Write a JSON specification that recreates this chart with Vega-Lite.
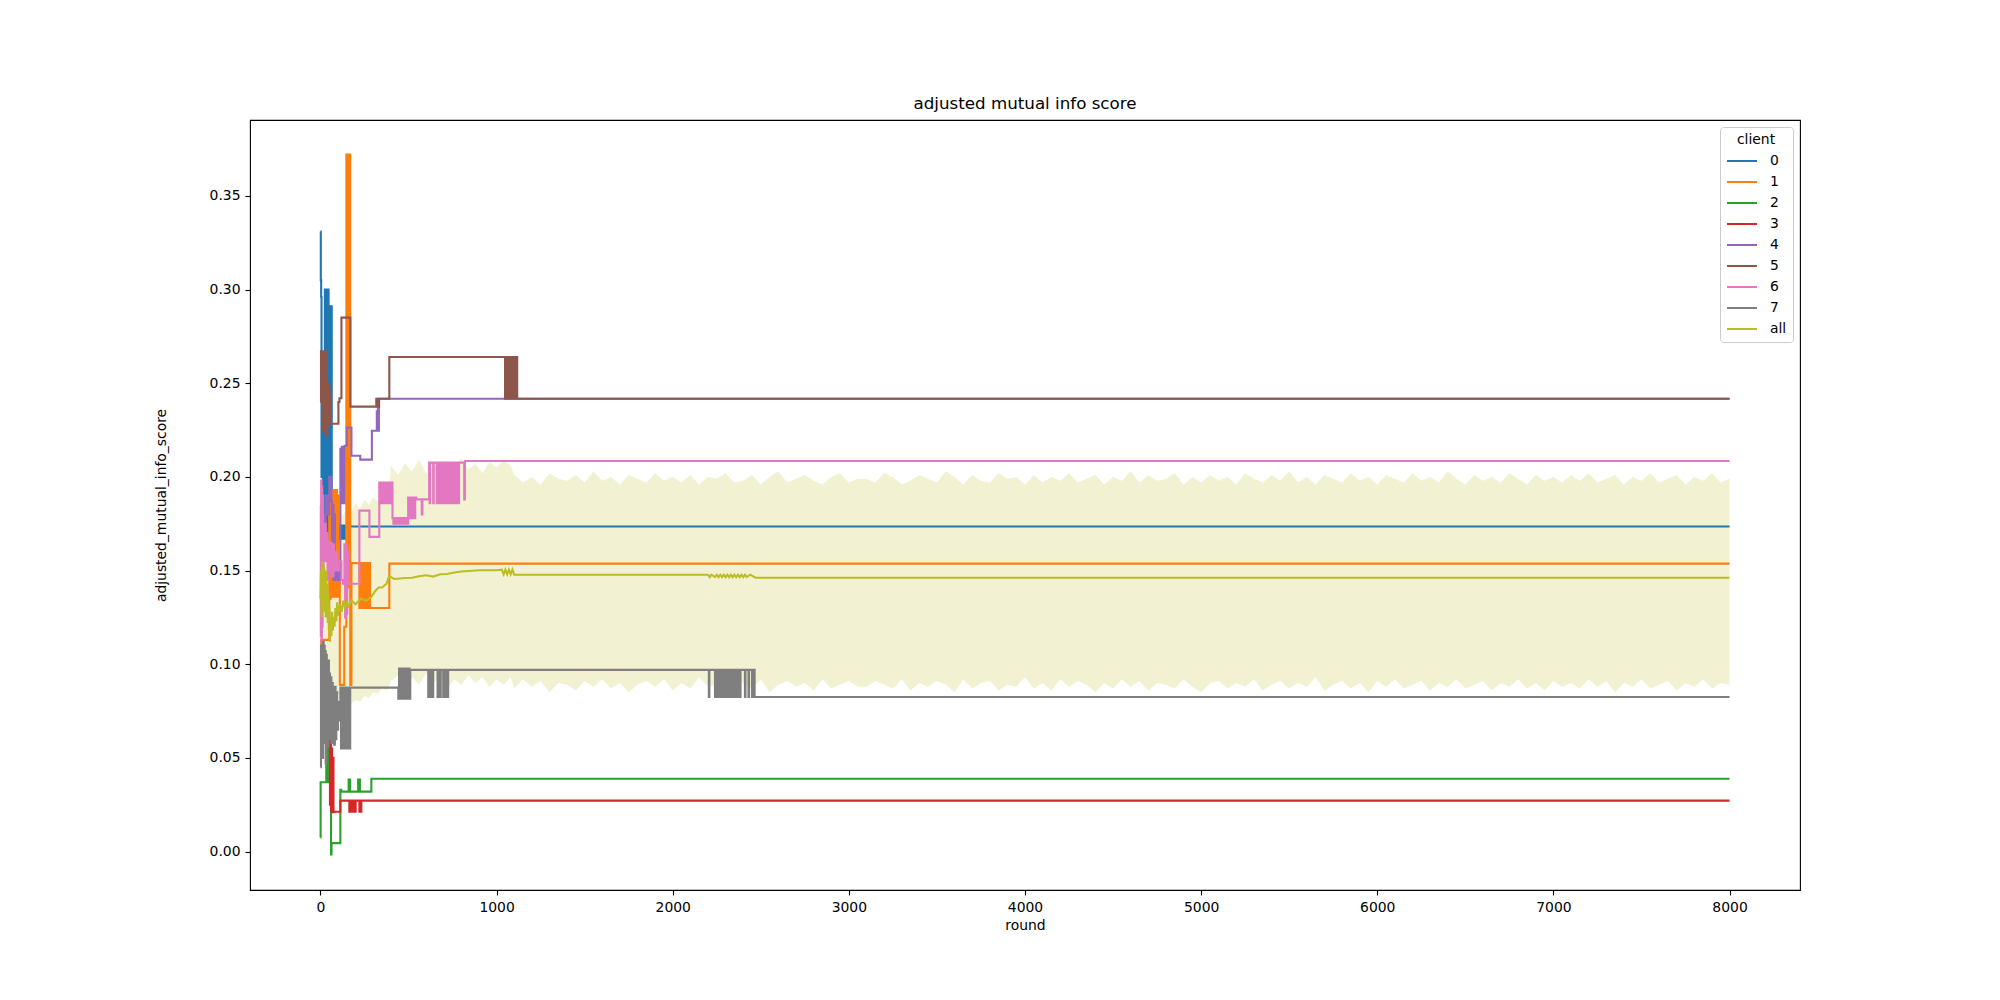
{
  "$schema": "https://vega.github.io/schema/vega-lite/v6.json",
  "width": 1550,
  "height": 770,
  "autosize": "none",
  "padding": {"left": 250, "top": 120, "right": 200, "bottom": 110},
  "background": "white",
  "title": {"text": "adjusted mutual info score", "font": "DejaVu Sans", "fontSize": 16.7, "fontWeight": "normal", "color": "black", "offset": 7},
  "config": {
    "view": {"stroke": "black", "strokeWidth": 1.1},
    "axis": {"grid": false, "domain": false, "tickColor": "black", "tickWidth": 1.1, "tickSize": 5, "labelPadding": 5, "labelFont": "DejaVu Sans", "labelFontSize": 13.9, "labelColor": "black", "titleFont": "DejaVu Sans", "titleFontSize": 13.9, "titleFontWeight": "normal", "titleColor": "black"},
    "legend": {"orient": "top-right", "offset": 7, "padding": 6, "strokeColor": "#cccccc", "fillColor": "rgba(255,255,255,0.8)", "cornerRadius": 3, "symbolType": "stroke", "symbolSize": 900, "symbolStrokeWidth": 2, "clipHeight": 14, "rowPadding": 7, "labelOffset": 12, "labelFont": "DejaVu Sans", "labelFontSize": 13.9, "labelColor": "black", "titleFont": "DejaVu Sans", "titleFontSize": 13.9, "titleFontWeight": "normal", "titleColor": "black", "titleAnchor": "middle", "titlePadding": 7}
  },
  "datasets": {
    "clients": [
      {"c":"0","r":0,"v":0.331},{"c":"0","r":2,"v":0.305},{"c":"0","r":4,"v":0.296},{"c":"0","r":6,"v":0.2},{"c":"0","r":10,"v":0.24},{"c":"0","r":14,"v":0.19},{"c":"0","r":18,"v":0.22},{"c":"0","r":22,"v":0.18},{"c":"0","r":25,"v":0.3},{"c":"0","r":28,"v":0.167},{"c":"0","r":31,"v":0.3},{"c":"0","r":34,"v":0.17},{"c":"0","r":37,"v":0.3},{"c":"0","r":40,"v":0.167},{"c":"0","r":43,"v":0.3},{"c":"0","r":46,"v":0.17},{"c":"0","r":49,"v":0.291},{"c":"0","r":52,"v":0.167},{"c":"0","r":55,"v":0.291},{"c":"0","r":58,"v":0.17},{"c":"0","r":61,"v":0.291},{"c":"0","r":64,"v":0.167},{"c":"0","r":70,"v":0.17},{"c":"0","r":80,"v":0.175},{"c":"0","r":95,"v":0.168},{"c":"0","r":105,"v":0.174},{"c":"0","r":110,"v":0.167},{"c":"0","r":118,"v":0.174},{"c":"0","r":122,"v":0.167},{"c":"0","r":126,"v":0.174},{"c":"0","r":130,"v":0.167},{"c":"0","r":134,"v":0.174},{"c":"0","r":138,"v":0.167},{"c":"0","r":142,"v":0.174},{"c":"0","r":147,"v":0.1735},{"c":"0","r":8000,"v":0.1735},
      {"c":"1","r":0,"v":0.05},{"c":"1","r":4,"v":0.113},{"c":"1","r":50,"v":0.19},{"c":"1","r":54,"v":0.135},{"c":"1","r":58,"v":0.19},{"c":"1","r":62,"v":0.14},{"c":"1","r":66,"v":0.193},{"c":"1","r":70,"v":0.136},{"c":"1","r":74,"v":0.193},{"c":"1","r":78,"v":0.136},{"c":"1","r":82,"v":0.193},{"c":"1","r":86,"v":0.136},{"c":"1","r":90,"v":0.193},{"c":"1","r":94,"v":0.136},{"c":"1","r":98,"v":0.19},{"c":"1","r":102,"v":0.15},{"c":"1","r":110,"v":0.089},{"c":"1","r":135,"v":0.12},{"c":"1","r":147,"v":0.372},{"c":"1","r":150,"v":0.141},{"c":"1","r":153,"v":0.372},{"c":"1","r":156,"v":0.141},{"c":"1","r":159,"v":0.372},{"c":"1","r":162,"v":0.141},{"c":"1","r":165,"v":0.372},{"c":"1","r":169,"v":0.089},{"c":"1","r":176,"v":0.154},{"c":"1","r":221,"v":0.13},{"c":"1","r":226,"v":0.154},{"c":"1","r":231,"v":0.13},{"c":"1","r":236,"v":0.154},{"c":"1","r":241,"v":0.13},{"c":"1","r":246,"v":0.154},{"c":"1","r":251,"v":0.13},{"c":"1","r":256,"v":0.154},{"c":"1","r":261,"v":0.13},{"c":"1","r":266,"v":0.154},{"c":"1","r":271,"v":0.13},{"c":"1","r":276,"v":0.154},{"c":"1","r":281,"v":0.13},{"c":"1","r":391,"v":0.1537},{"c":"1","r":8000,"v":0.1537},
      {"c":"2","r":0,"v":0.0075},{"c":"2","r":1,"v":0.037},{"c":"2","r":33,"v":0.062},{"c":"2","r":36,"v":0.037},{"c":"2","r":39,"v":0.062},{"c":"2","r":42,"v":0.037},{"c":"2","r":45,"v":0.062},{"c":"2","r":48,"v":0.037},{"c":"2","r":51,"v":0.062},{"c":"2","r":55,"v":0.045},{"c":"2","r":60,"v":-0.0015},{"c":"2","r":63,"v":0.0045},{"c":"2","r":113,"v":0.033},{"c":"2","r":118,"v":0.032},{"c":"2","r":160,"v":0.0385},{"c":"2","r":168,"v":0.032},{"c":"2","r":214,"v":0.0385},{"c":"2","r":224,"v":0.032},{"c":"2","r":289,"v":0.0389},{"c":"2","r":8000,"v":0.0389},
      {"c":"3","r":0,"v":0.065},{"c":"3","r":20,"v":0.077},{"c":"3","r":24,"v":0.065},{"c":"3","r":28,"v":0.077},{"c":"3","r":32,"v":0.065},{"c":"3","r":36,"v":0.075},{"c":"3","r":40,"v":0.065},{"c":"3","r":45,"v":0.06},{"c":"3","r":51,"v":0.062},{"c":"3","r":54,"v":0.025},{"c":"3","r":57,"v":0.058},{"c":"3","r":60,"v":0.022},{"c":"3","r":63,"v":0.055},{"c":"3","r":66,"v":0.021},{"c":"3","r":70,"v":0.05},{"c":"3","r":74,"v":0.021},{"c":"3","r":79,"v":0.0213},{"c":"3","r":113,"v":0.0272},{"c":"3","r":164,"v":0.0213},{"c":"3","r":168,"v":0.0272},{"c":"3","r":172,"v":0.0213},{"c":"3","r":176,"v":0.0272},{"c":"3","r":180,"v":0.0213},{"c":"3","r":184,"v":0.0272},{"c":"3","r":188,"v":0.0213},{"c":"3","r":192,"v":0.0272},{"c":"3","r":196,"v":0.0213},{"c":"3","r":200,"v":0.0272},{"c":"3","r":221,"v":0.0213},{"c":"3","r":232,"v":0.0272},{"c":"3","r":8000,"v":0.0272},
      {"c":"4","r":0,"v":0.185},{"c":"4","r":4,"v":0.165},{"c":"4","r":8,"v":0.19},{"c":"4","r":12,"v":0.16},{"c":"4","r":16,"v":0.18},{"c":"4","r":20,"v":0.17},{"c":"4","r":30,"v":0.19},{"c":"4","r":40,"v":0.18},{"c":"4","r":50,"v":0.2},{"c":"4","r":62,"v":0.187},{"c":"4","r":66,"v":0.148},{"c":"4","r":70,"v":0.185},{"c":"4","r":74,"v":0.145},{"c":"4","r":78,"v":0.18},{"c":"4","r":82,"v":0.145},{"c":"4","r":90,"v":0.15},{"c":"4","r":102,"v":0.145},{"c":"4","r":113,"v":0.215},{"c":"4","r":117,"v":0.186},{"c":"4","r":121,"v":0.216},{"c":"4","r":125,"v":0.186},{"c":"4","r":129,"v":0.216},{"c":"4","r":133,"v":0.186},{"c":"4","r":137,"v":0.2166},{"c":"4","r":150,"v":0.2263},{"c":"4","r":176,"v":0.2113},{"c":"4","r":226,"v":0.2092},{"c":"4","r":292,"v":0.2246},{"c":"4","r":320,"v":0.235},{"c":"4","r":323,"v":0.2246},{"c":"4","r":326,"v":0.2417},{"c":"4","r":329,"v":0.2246},{"c":"4","r":332,"v":0.2417},{"c":"4","r":8000,"v":0.2417},
      {"c":"5","r":0,"v":0.24},{"c":"5","r":3,"v":0.267},{"c":"5","r":6,"v":0.24},{"c":"5","r":9,"v":0.267},{"c":"5","r":12,"v":0.225},{"c":"5","r":15,"v":0.267},{"c":"5","r":18,"v":0.23},{"c":"5","r":21,"v":0.267},{"c":"5","r":24,"v":0.223},{"c":"5","r":27,"v":0.267},{"c":"5","r":30,"v":0.24},{"c":"5","r":33,"v":0.267},{"c":"5","r":36,"v":0.222},{"c":"5","r":39,"v":0.25},{"c":"5","r":43,"v":0.228},{"c":"5","r":47,"v":0.25},{"c":"5","r":51,"v":0.228},{"c":"5","r":55,"v":0.245},{"c":"5","r":60,"v":0.2284},{"c":"5","r":102,"v":0.24},{"c":"5","r":108,"v":0.242},{"c":"5","r":119,"v":0.285},{"c":"5","r":170,"v":0.2375},{"c":"5","r":317,"v":0.2417},{"c":"5","r":321,"v":0.2375},{"c":"5","r":325,"v":0.2417},{"c":"5","r":329,"v":0.2375},{"c":"5","r":333,"v":0.2417},{"c":"5","r":391,"v":0.264},{"c":"5","r":1048,"v":0.2417},{"c":"5","r":1051,"v":0.264},{"c":"5","r":1062,"v":0.2417},{"c":"5","r":1066,"v":0.264},{"c":"5","r":1070,"v":0.2417},{"c":"5","r":1074,"v":0.264},{"c":"5","r":1078,"v":0.2417},{"c":"5","r":1082,"v":0.264},{"c":"5","r":1086,"v":0.2417},{"c":"5","r":1090,"v":0.264},{"c":"5","r":1094,"v":0.2417},{"c":"5","r":1098,"v":0.264},{"c":"5","r":1102,"v":0.2417},{"c":"5","r":1106,"v":0.264},{"c":"5","r":1110,"v":0.2417},{"c":"5","r":1114,"v":0.264},{"c":"5","r":1117,"v":0.2417},{"c":"5","r":8000,"v":0.2417},
      {"c":"6","r":0,"v":0.185},{"c":"6","r":2,"v":0.115},{"c":"6","r":4,"v":0.198},{"c":"6","r":6,"v":0.112},{"c":"6","r":8,"v":0.195},{"c":"6","r":10,"v":0.12},{"c":"6","r":12,"v":0.19},{"c":"6","r":15,"v":0.13},{"c":"6","r":18,"v":0.175},{"c":"6","r":22,"v":0.16},{"c":"6","r":26,"v":0.175},{"c":"6","r":30,"v":0.155},{"c":"6","r":35,"v":0.17},{"c":"6","r":40,"v":0.145},{"c":"6","r":45,"v":0.165},{"c":"6","r":50,"v":0.15},{"c":"6","r":55,"v":0.165},{"c":"6","r":62,"v":0.147},{"c":"6","r":66,"v":0.164},{"c":"6","r":70,"v":0.147},{"c":"6","r":74,"v":0.164},{"c":"6","r":78,"v":0.15},{"c":"6","r":85,"v":0.16},{"c":"6","r":95,"v":0.15},{"c":"6","r":105,"v":0.155},{"c":"6","r":119,"v":0.145},{"c":"6","r":128,"v":0.143},{"c":"6","r":136,"v":0.164},{"c":"6","r":140,"v":0.125},{"c":"6","r":144,"v":0.164},{"c":"6","r":148,"v":0.127},{"c":"6","r":152,"v":0.16},{"c":"6","r":158,"v":0.143},{"c":"6","r":221,"v":0.182},{"c":"6","r":278,"v":0.168},{"c":"6","r":334,"v":0.197},{"c":"6","r":339,"v":0.186},{"c":"6","r":344,"v":0.197},{"c":"6","r":349,"v":0.186},{"c":"6","r":354,"v":0.197},{"c":"6","r":359,"v":0.186},{"c":"6","r":364,"v":0.197},{"c":"6","r":369,"v":0.186},{"c":"6","r":374,"v":0.197},{"c":"6","r":379,"v":0.186},{"c":"6","r":384,"v":0.197},{"c":"6","r":389,"v":0.186},{"c":"6","r":394,"v":0.197},{"c":"6","r":399,"v":0.186},{"c":"6","r":404,"v":0.197},{"c":"6","r":409,"v":0.178},{"c":"6","r":414,"v":0.175},{"c":"6","r":419,"v":0.178},{"c":"6","r":424,"v":0.175},{"c":"6","r":429,"v":0.178},{"c":"6","r":434,"v":0.175},{"c":"6","r":439,"v":0.178},{"c":"6","r":444,"v":0.175},{"c":"6","r":449,"v":0.178},{"c":"6","r":454,"v":0.175},{"c":"6","r":459,"v":0.178},{"c":"6","r":464,"v":0.175},{"c":"6","r":469,"v":0.178},{"c":"6","r":474,"v":0.175},{"c":"6","r":479,"v":0.178},{"c":"6","r":484,"v":0.175},{"c":"6","r":489,"v":0.178},{"c":"6","r":494,"v":0.175},{"c":"6","r":498,"v":0.189},{"c":"6","r":503,"v":0.178},{"c":"6","r":508,"v":0.189},{"c":"6","r":513,"v":0.178},{"c":"6","r":518,"v":0.189},{"c":"6","r":523,"v":0.178},{"c":"6","r":528,"v":0.189},{"c":"6","r":533,"v":0.178},{"c":"6","r":538,"v":0.189},{"c":"6","r":544,"v":0.188},{"c":"6","r":575,"v":0.18},{"c":"6","r":579,"v":0.188},{"c":"6","r":617,"v":0.2076},{"c":"6","r":620,"v":0.186},{"c":"6","r":623,"v":0.2076},{"c":"6","r":640,"v":0.186},{"c":"6","r":643,"v":0.2076},{"c":"6","r":660,"v":0.186},{"c":"6","r":665,"v":0.2076},{"c":"6","r":670,"v":0.186},{"c":"6","r":675,"v":0.2076},{"c":"6","r":680,"v":0.186},{"c":"6","r":685,"v":0.2076},{"c":"6","r":690,"v":0.186},{"c":"6","r":695,"v":0.2076},{"c":"6","r":700,"v":0.186},{"c":"6","r":705,"v":0.2076},{"c":"6","r":710,"v":0.186},{"c":"6","r":715,"v":0.2076},{"c":"6","r":720,"v":0.186},{"c":"6","r":725,"v":0.2076},{"c":"6","r":730,"v":0.186},{"c":"6","r":735,"v":0.2076},{"c":"6","r":740,"v":0.186},{"c":"6","r":745,"v":0.2076},{"c":"6","r":750,"v":0.186},{"c":"6","r":755,"v":0.2076},{"c":"6","r":760,"v":0.186},{"c":"6","r":765,"v":0.2076},{"c":"6","r":770,"v":0.186},{"c":"6","r":775,"v":0.2076},{"c":"6","r":780,"v":0.186},{"c":"6","r":787,"v":0.2076},{"c":"6","r":816,"v":0.188},{"c":"6","r":820,"v":0.2085},{"c":"6","r":8000,"v":0.2085},
      {"c":"7","r":0,"v":0.045},{"c":"7","r":3,"v":0.11},{"c":"7","r":6,"v":0.06},{"c":"7","r":9,"v":0.108},{"c":"7","r":12,"v":0.05},{"c":"7","r":15,"v":0.112},{"c":"7","r":18,"v":0.065},{"c":"7","r":21,"v":0.11},{"c":"7","r":24,"v":0.058},{"c":"7","r":27,"v":0.107},{"c":"7","r":30,"v":0.047},{"c":"7","r":33,"v":0.105},{"c":"7","r":36,"v":0.068},{"c":"7","r":39,"v":0.1},{"c":"7","r":42,"v":0.056},{"c":"7","r":45,"v":0.102},{"c":"7","r":48,"v":0.07},{"c":"7","r":51,"v":0.095},{"c":"7","r":54,"v":0.06},{"c":"7","r":58,"v":0.093},{"c":"7","r":62,"v":0.058},{"c":"7","r":66,"v":0.09},{"c":"7","r":70,"v":0.062},{"c":"7","r":74,"v":0.085},{"c":"7","r":78,"v":0.057},{"c":"7","r":82,"v":0.088},{"c":"7","r":86,"v":0.06},{"c":"7","r":90,"v":0.085},{"c":"7","r":95,"v":0.065},{"c":"7","r":100,"v":0.08},{"c":"7","r":105,"v":0.07},{"c":"7","r":113,"v":0.0875},{"c":"7","r":117,"v":0.055},{"c":"7","r":121,"v":0.0875},{"c":"7","r":125,"v":0.055},{"c":"7","r":129,"v":0.0875},{"c":"7","r":133,"v":0.055},{"c":"7","r":137,"v":0.0875},{"c":"7","r":141,"v":0.055},{"c":"7","r":145,"v":0.0875},{"c":"7","r":149,"v":0.055},{"c":"7","r":153,"v":0.0875},{"c":"7","r":157,"v":0.055},{"c":"7","r":161,"v":0.0875},{"c":"7","r":165,"v":0.055},{"c":"7","r":169,"v":0.0875},{"c":"7","r":442,"v":0.0816},{"c":"7","r":446,"v":0.0977},{"c":"7","r":450,"v":0.0816},{"c":"7","r":454,"v":0.0977},{"c":"7","r":458,"v":0.0816},{"c":"7","r":462,"v":0.0977},{"c":"7","r":466,"v":0.0816},{"c":"7","r":470,"v":0.0977},{"c":"7","r":474,"v":0.0816},{"c":"7","r":478,"v":0.0977},{"c":"7","r":482,"v":0.0816},{"c":"7","r":486,"v":0.0977},{"c":"7","r":490,"v":0.0816},{"c":"7","r":494,"v":0.0977},{"c":"7","r":498,"v":0.0816},{"c":"7","r":502,"v":0.0977},{"c":"7","r":506,"v":0.0816},{"c":"7","r":510,"v":0.097},{"c":"7","r":612,"v":0.0825},{"c":"7","r":616,"v":0.097},{"c":"7","r":620,"v":0.0825},{"c":"7","r":624,"v":0.097},{"c":"7","r":628,"v":0.0825},{"c":"7","r":632,"v":0.097},{"c":"7","r":636,"v":0.0825},{"c":"7","r":640,"v":0.097},{"c":"7","r":665,"v":0.0825},{"c":"7","r":668,"v":0.097},{"c":"7","r":680,"v":0.0825},{"c":"7","r":683,"v":0.097},{"c":"7","r":697,"v":0.0825},{"c":"7","r":701,"v":0.097},{"c":"7","r":705,"v":0.0825},{"c":"7","r":709,"v":0.097},{"c":"7","r":713,"v":0.0825},{"c":"7","r":717,"v":0.097},{"c":"7","r":721,"v":0.0825},{"c":"7","r":725,"v":0.097},{"c":"7","r":2205,"v":0.0825},{"c":"7","r":2208,"v":0.097},{"c":"7","r":2240,"v":0.0825},{"c":"7","r":2245,"v":0.097},{"c":"7","r":2250,"v":0.0825},{"c":"7","r":2255,"v":0.097},{"c":"7","r":2260,"v":0.0825},{"c":"7","r":2265,"v":0.097},{"c":"7","r":2270,"v":0.0825},{"c":"7","r":2275,"v":0.097},{"c":"7","r":2280,"v":0.0825},{"c":"7","r":2285,"v":0.097},{"c":"7","r":2290,"v":0.0825},{"c":"7","r":2295,"v":0.097},{"c":"7","r":2300,"v":0.0825},{"c":"7","r":2305,"v":0.097},{"c":"7","r":2310,"v":0.0825},{"c":"7","r":2315,"v":0.097},{"c":"7","r":2320,"v":0.0825},{"c":"7","r":2325,"v":0.097},{"c":"7","r":2330,"v":0.0825},{"c":"7","r":2335,"v":0.097},{"c":"7","r":2340,"v":0.0825},{"c":"7","r":2345,"v":0.097},{"c":"7","r":2350,"v":0.0825},{"c":"7","r":2355,"v":0.097},{"c":"7","r":2360,"v":0.0825},{"c":"7","r":2365,"v":0.097},{"c":"7","r":2370,"v":0.0825},{"c":"7","r":2375,"v":0.097},{"c":"7","r":2380,"v":0.0825},{"c":"7","r":2385,"v":0.097},{"c":"7","r":2410,"v":0.0825},{"c":"7","r":2413,"v":0.097},{"c":"7","r":2430,"v":0.0825},{"c":"7","r":2433,"v":0.097},{"c":"7","r":2450,"v":0.0825},{"c":"7","r":2455,"v":0.097},{"c":"7","r":2465,"v":0.0825},{"c":"7","r":8000,"v":0.0825}
    ],
    "overall": [
      {"c":"all","r":0,"v":0.135},{"c":"all","r":3,"v":0.15},{"c":"all","r":6,"v":0.125},{"c":"all","r":9,"v":0.155},{"c":"all","r":12,"v":0.13},{"c":"all","r":15,"v":0.148},{"c":"all","r":18,"v":0.128},{"c":"all","r":21,"v":0.152},{"c":"all","r":24,"v":0.135},{"c":"all","r":27,"v":0.145},{"c":"all","r":30,"v":0.125},{"c":"all","r":33,"v":0.15},{"c":"all","r":36,"v":0.132},{"c":"all","r":39,"v":0.143},{"c":"all","r":42,"v":0.122},{"c":"all","r":45,"v":0.138},{"c":"all","r":48,"v":0.118},{"c":"all","r":51,"v":0.13},{"c":"all","r":54,"v":0.112},{"c":"all","r":58,"v":0.125},{"c":"all","r":62,"v":0.115},{"c":"all","r":66,"v":0.128},{"c":"all","r":70,"v":0.118},{"c":"all","r":75,"v":0.125},{"c":"all","r":80,"v":0.12},{"c":"all","r":85,"v":0.13},{"c":"all","r":90,"v":0.123},{"c":"all","r":95,"v":0.133},{"c":"all","r":100,"v":0.126},{"c":"all","r":110,"v":0.132},{"c":"all","r":120,"v":0.128},{"c":"all","r":130,"v":0.134},{"c":"all","r":140,"v":0.13},{"c":"all","r":150,"v":0.133},{"c":"all","r":160,"v":0.131},{"c":"all","r":176,"v":0.134},{"c":"all","r":200,"v":0.132},{"c":"all","r":230,"v":0.135},{"c":"all","r":260,"v":0.134},{"c":"all","r":290,"v":0.136},{"c":"all","r":310,"v":0.139},{"c":"all","r":330,"v":0.141},{"c":"all","r":350,"v":0.141},{"c":"all","r":375,"v":0.143},{"c":"all","r":390,"v":0.147},{"c":"all","r":420,"v":0.1455},{"c":"all","r":450,"v":0.1458},{"c":"all","r":480,"v":0.146},{"c":"all","r":520,"v":0.1462},{"c":"all","r":560,"v":0.147},{"c":"all","r":600,"v":0.1475},{"c":"all","r":640,"v":0.1468},{"c":"all","r":680,"v":0.148},{"c":"all","r":720,"v":0.1482},{"c":"all","r":760,"v":0.149},{"c":"all","r":800,"v":0.1495},{"c":"all","r":900,"v":0.1502},{"c":"all","r":1000,"v":0.1502},{"c":"all","r":1030,"v":0.1505},{"c":"all","r":1040,"v":0.148},{"c":"all","r":1050,"v":0.1505},{"c":"all","r":1060,"v":0.148},{"c":"all","r":1070,"v":0.1505},{"c":"all","r":1080,"v":0.148},{"c":"all","r":1090,"v":0.1505},{"c":"all","r":1100,"v":0.1478},{"c":"all","r":2200,"v":0.1478},{"c":"all","r":2210,"v":0.1465},{"c":"all","r":2220,"v":0.1478},{"c":"all","r":2240,"v":0.1465},{"c":"all","r":2250,"v":0.1478},{"c":"all","r":2260,"v":0.1465},{"c":"all","r":2270,"v":0.1478},{"c":"all","r":2280,"v":0.1465},{"c":"all","r":2290,"v":0.1478},{"c":"all","r":2300,"v":0.1465},{"c":"all","r":2310,"v":0.1478},{"c":"all","r":2320,"v":0.1465},{"c":"all","r":2330,"v":0.1478},{"c":"all","r":2340,"v":0.1465},{"c":"all","r":2350,"v":0.1478},{"c":"all","r":2360,"v":0.1465},{"c":"all","r":2370,"v":0.1478},{"c":"all","r":2380,"v":0.1465},{"c":"all","r":2390,"v":0.1478},{"c":"all","r":2400,"v":0.1465},{"c":"all","r":2410,"v":0.1478},{"c":"all","r":2420,"v":0.1465},{"c":"all","r":2440,"v":0.1478},{"c":"all","r":2470,"v":0.1462},{"c":"all","r":8000,"v":0.1462}
    ],
    "band": [
      {"r":0,"lo":0.105,"hi":0.175},{"r":25,"lo":0.095,"hi":0.178},{"r":50,"lo":0.09,"hi":0.18},{"r":75,"lo":0.086,"hi":0.176},{"r":100,"lo":0.084,"hi":0.182},{"r":125,"lo":0.082,"hi":0.179},{"r":150,"lo":0.08,"hi":0.183},{"r":175,"lo":0.079,"hi":0.181},{"r":200,"lo":0.081,"hi":0.186},{"r":225,"lo":0.08,"hi":0.183},{"r":250,"lo":0.083,"hi":0.188},{"r":275,"lo":0.082,"hi":0.185},{"r":300,"lo":0.085,"hi":0.189},{"r":325,"lo":0.084,"hi":0.187},{"r":350,"lo":0.087,"hi":0.192},{"r":375,"lo":0.086,"hi":0.189},{"r":390,"lo":0.088,"hi":0.194},
      {"r":400,"lo":0.091,"hi":0.206},{"r":440,"lo":0.094,"hi":0.201},{"r":480,"lo":0.088,"hi":0.207},{"r":520,"lo":0.093,"hi":0.203},{"r":560,"lo":0.089,"hi":0.209},{"r":600,"lo":0.095,"hi":0.202},{"r":640,"lo":0.09,"hi":0.205},{"r":680,"lo":0.093,"hi":0.208},{"r":720,"lo":0.087,"hi":0.203},{"r":760,"lo":0.092,"hi":0.206},{"r":800,"lo":0.089,"hi":0.21},{"r":840,"lo":0.094,"hi":0.204},{"r":880,"lo":0.09,"hi":0.207},{"r":920,"lo":0.093,"hi":0.202},{"r":960,"lo":0.088,"hi":0.208},{"r":1000,"lo":0.092,"hi":0.205},{"r":1040,"lo":0.089,"hi":0.209},{"r":1080,"lo":0.093,"hi":0.206},
      {"r":1100,"lo":0.087,"hi":0.201},{"r":1150,"lo":0.092,"hi":0.197},{"r":1200,"lo":0.088,"hi":0.2},{"r":1250,"lo":0.091,"hi":0.196},{"r":1300,"lo":0.085,"hi":0.202},{"r":1350,"lo":0.09,"hi":0.199},{"r":1400,"lo":0.089,"hi":0.198},{"r":1450,"lo":0.086,"hi":0.201},{"r":1500,"lo":0.091,"hi":0.197},{"r":1550,"lo":0.088,"hi":0.203},{"r":1600,"lo":0.092,"hi":0.198},{"r":1650,"lo":0.087,"hi":0.2},{"r":1700,"lo":0.09,"hi":0.196},{"r":1750,"lo":0.085,"hi":0.201},{"r":1800,"lo":0.089,"hi":0.199},{"r":1850,"lo":0.091,"hi":0.197},{"r":1900,"lo":0.088,"hi":0.202},{"r":1950,"lo":0.092,"hi":0.198},{"r":2000,"lo":0.086,"hi":0.2},{"r":2050,"lo":0.09,"hi":0.197},{"r":2100,"lo":0.087,"hi":0.201},{"r":2150,"lo":0.093,"hi":0.196},{"r":2200,"lo":0.088,"hi":0.2},{"r":2250,"lo":0.089,"hi":0.199},{"r":2300,"lo":0.086,"hi":0.202},{"r":2350,"lo":0.091,"hi":0.197},{"r":2400,"lo":0.09,"hi":0.198},{"r":2450,"lo":0.087,"hi":0.201},{"r":2500,"lo":0.092,"hi":0.196},{"r":2550,"lo":0.085,"hi":0.2},{"r":2600,"lo":0.089,"hi":0.203},{"r":2650,"lo":0.091,"hi":0.197},{"r":2700,"lo":0.088,"hi":0.199},{"r":2750,"lo":0.09,"hi":0.201},{"r":2800,"lo":0.086,"hi":0.198},{"r":2850,"lo":0.092,"hi":0.196},{"r":2900,"lo":0.087,"hi":0.2},{"r":2950,"lo":0.089,"hi":0.202},{"r":3000,"lo":0.091,"hi":0.197},{"r":3050,"lo":0.088,"hi":0.199},
      {"r":3100,"lo":0.088,"hi":0.199},{"r":3150,"lo":0.091,"hi":0.197},{"r":3200,"lo":0.089,"hi":0.202},{"r":3250,"lo":0.087,"hi":0.2},{"r":3300,"lo":0.092,"hi":0.196},{"r":3350,"lo":0.086,"hi":0.198},{"r":3400,"lo":0.09,"hi":0.201},{"r":3450,"lo":0.088,"hi":0.199},{"r":3500,"lo":0.091,"hi":0.197},{"r":3550,"lo":0.089,"hi":0.203},{"r":3600,"lo":0.085,"hi":0.2},{"r":3650,"lo":0.092,"hi":0.196},{"r":3700,"lo":0.087,"hi":0.201},{"r":3750,"lo":0.09,"hi":0.198},{"r":3800,"lo":0.091,"hi":0.197},{"r":3850,"lo":0.086,"hi":0.202},{"r":3900,"lo":0.089,"hi":0.199},{"r":3950,"lo":0.088,"hi":0.2},{"r":4000,"lo":0.093,"hi":0.196},{"r":4050,"lo":0.087,"hi":0.201},{"r":4100,"lo":0.09,"hi":0.197},{"r":4150,"lo":0.086,"hi":0.2},{"r":4200,"lo":0.092,"hi":0.198},{"r":4250,"lo":0.088,"hi":0.202},{"r":4300,"lo":0.091,"hi":0.197},{"r":4350,"lo":0.089,"hi":0.199},{"r":4400,"lo":0.085,"hi":0.201},{"r":4450,"lo":0.09,"hi":0.196},{"r":4500,"lo":0.087,"hi":0.2},{"r":4550,"lo":0.092,"hi":0.198},{"r":4600,"lo":0.088,"hi":0.203},{"r":4650,"lo":0.091,"hi":0.197},{"r":4700,"lo":0.086,"hi":0.201},{"r":4750,"lo":0.09,"hi":0.198},{"r":4800,"lo":0.089,"hi":0.199},{"r":4850,"lo":0.087,"hi":0.202},{"r":4900,"lo":0.092,"hi":0.196},{"r":4950,"lo":0.088,"hi":0.2},{"r":5000,"lo":0.085,"hi":0.197},{"r":5050,"lo":0.09,"hi":0.201},
      {"r":5100,"lo":0.091,"hi":0.198},{"r":5150,"lo":0.087,"hi":0.2},{"r":5200,"lo":0.09,"hi":0.196},{"r":5250,"lo":0.088,"hi":0.202},{"r":5300,"lo":0.092,"hi":0.199},{"r":5350,"lo":0.086,"hi":0.197},{"r":5400,"lo":0.089,"hi":0.201},{"r":5450,"lo":0.091,"hi":0.198},{"r":5500,"lo":0.087,"hi":0.203},{"r":5550,"lo":0.09,"hi":0.197},{"r":5600,"lo":0.088,"hi":0.2},{"r":5650,"lo":0.093,"hi":0.196},{"r":5700,"lo":0.086,"hi":0.201},{"r":5750,"lo":0.089,"hi":0.199},{"r":5800,"lo":0.091,"hi":0.197},{"r":5850,"lo":0.087,"hi":0.202},{"r":5900,"lo":0.09,"hi":0.198},{"r":5950,"lo":0.085,"hi":0.2},{"r":6000,"lo":0.091,"hi":0.196},{"r":6050,"lo":0.088,"hi":0.201},{"r":6100,"lo":0.092,"hi":0.199},{"r":6150,"lo":0.087,"hi":0.197},{"r":6200,"lo":0.089,"hi":0.202},{"r":6250,"lo":0.091,"hi":0.198},{"r":6300,"lo":0.086,"hi":0.2},{"r":6350,"lo":0.09,"hi":0.197},{"r":6400,"lo":0.088,"hi":0.203},{"r":6450,"lo":0.092,"hi":0.199},{"r":6500,"lo":0.087,"hi":0.196},{"r":6550,"lo":0.089,"hi":0.201},{"r":6600,"lo":0.091,"hi":0.198},{"r":6650,"lo":0.086,"hi":0.2},{"r":6700,"lo":0.09,"hi":0.197},{"r":6750,"lo":0.088,"hi":0.202},{"r":6800,"lo":0.092,"hi":0.199},{"r":6850,"lo":0.087,"hi":0.196},{"r":6900,"lo":0.09,"hi":0.201},{"r":6950,"lo":0.086,"hi":0.198},{"r":7000,"lo":0.091,"hi":0.2},{"r":7050,"lo":0.088,"hi":0.197},
      {"r":7100,"lo":0.09,"hi":0.201},{"r":7150,"lo":0.087,"hi":0.198},{"r":7200,"lo":0.092,"hi":0.202},{"r":7250,"lo":0.088,"hi":0.197},{"r":7300,"lo":0.091,"hi":0.199},{"r":7350,"lo":0.085,"hi":0.201},{"r":7400,"lo":0.09,"hi":0.196},{"r":7450,"lo":0.088,"hi":0.2},{"r":7500,"lo":0.092,"hi":0.198},{"r":7550,"lo":0.087,"hi":0.202},{"r":7600,"lo":0.089,"hi":0.197},{"r":7650,"lo":0.091,"hi":0.199},{"r":7700,"lo":0.086,"hi":0.201},{"r":7750,"lo":0.09,"hi":0.196},{"r":7800,"lo":0.088,"hi":0.2},{"r":7850,"lo":0.092,"hi":0.198},{"r":7900,"lo":0.087,"hi":0.202},{"r":7950,"lo":0.09,"hi":0.197},{"r":8000,"lo":0.089,"hi":0.199}
    ]
  },
  "layer": [
    {
      "data": {"name": "band"},
      "mark": {"type": "area", "color": "#bcbd22", "opacity": 0.2},
      "encoding": {
        "x": {"field": "r", "type": "quantitative", "title": "round", "scale": {"domain": [-400, 8400], "nice": false, "zero": false}, "axis": {"values": [0,1000,2000,3000,4000,5000,6000,7000,8000], "format": "d", "titlePadding": 5}},
        "y": {"field": "lo", "type": "quantitative", "title": "adjusted_mutual_info_score", "scale": {"domain": [-0.0205, 0.3905], "nice": false, "zero": false}, "axis": {"values": [0,0.05,0.1,0.15,0.2,0.25,0.3,0.35], "format": ".2f", "titlePadding": 41}},
        "y2": {"field": "hi"}
      }
    },
    {
      "data": {"name": "clients"},
      "mark": {"type": "line", "interpolate": "step-after", "strokeWidth": 2.1},
      "encoding": {
        "x": {"field": "r", "type": "quantitative"},
        "y": {"field": "v", "type": "quantitative"},
        "color": {"field": "c", "type": "nominal", "title": "client", "scale": {"domain": ["0","1","2","3","4","5","6","7","all"], "range": ["#1f77b4","#ff7f0e","#2ca02c","#d62728","#9467bd","#8c564b","#e377c2","#7f7f7f","#bcbd22"]}}
      }
    },
    {
      "data": {"name": "overall"},
      "mark": {"type": "line", "strokeWidth": 2.1},
      "encoding": {
        "x": {"field": "r", "type": "quantitative"},
        "y": {"field": "v", "type": "quantitative"},
        "color": {"field": "c", "type": "nominal", "title": "client"}
      }
    }
  ]
}
